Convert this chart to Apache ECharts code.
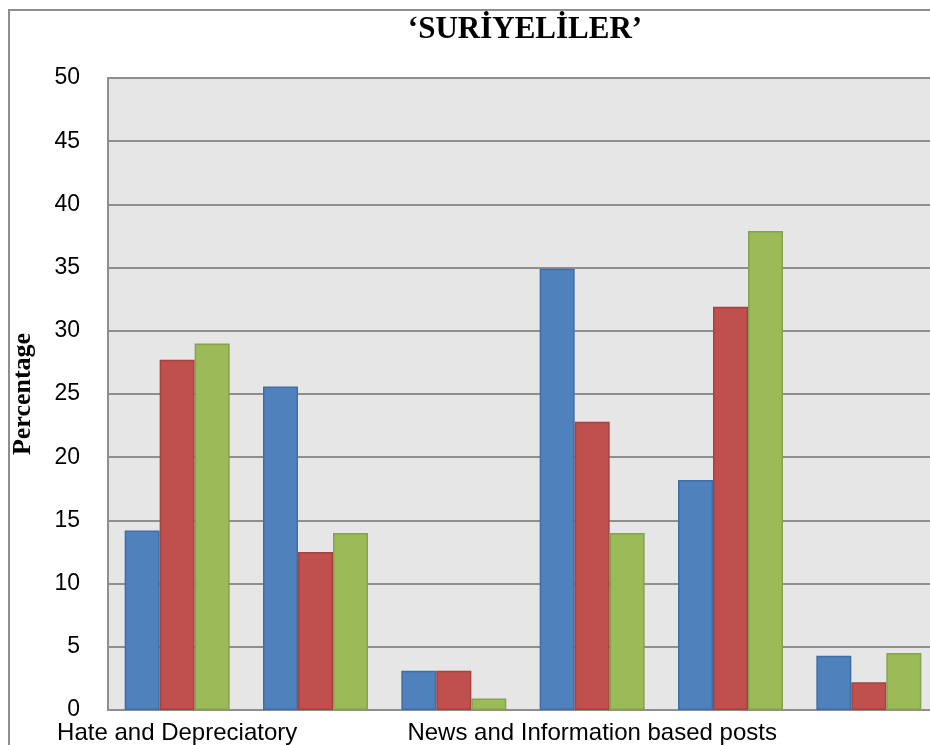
<!DOCTYPE html>
<html>
<head>
<meta charset="utf-8">
<script src="https://cdn.jsdelivr.net/npm/echarts@6/dist/echarts.min.js"></script>
<style>
html,body{margin:0;padding:0;background:#fff;overflow:hidden;width:930px;height:745px;}
#chart{width:938px;height:745px;}
</style>
</head>
<body>
<div id="chart"></div>
<script>
var categories = ['Hate and Depreciatory', 'Category 2', 'Category 3', 'News and Information based posts', 'Category 5', 'Category 6'];
var series1 = [14.2, 25.6, 3.1, 34.9, 18.2, 4.3];
var series2 = [27.7, 12.5, 3.1, 22.8, 31.9, 2.2];
var series3 = [29.0, 14.0, 0.9, 14.0, 37.9, 4.5];
var yTicks = [0, 5, 10, 15, 20, 25, 30, 35, 40, 45, 50];

var chart = echarts.init(document.getElementById('chart'));
var fills = ['#4F81BD', '#C0504D', '#9BBB59'];
var borders = ['#3F6EA6', '#A5413E', '#85A24C'];
function mk(name, data, i) {
  return {
    name: name, type: 'bar', data: data, barWidth: 35, barGap: '0%',
    itemStyle: { color: fills[i], borderColor: borders[i], borderWidth: 1.5 }
  };
}
chart.setOption({
  animation: false,
  backgroundColor: '#ffffff',
  graphic: [{
    type: 'rect', shape: { x: 9, y: 10, width: 1000, height: 800 },
    style: { fill: 'none', stroke: '#8e8e8e', lineWidth: 2 }, silent: true, z: -1
  }],
  title: {
    text: '\u2018SUR\u0130YEL\u0130LER\u2019',
    left: 520, top: 9, textAlign: 'center',
    textStyle: { fontFamily: 'Liberation Serif', fontWeight: 'bold', fontSize: 31, color: '#000' }
  },
  grid: {
    left: 108, top: 78, right: 0, bottom: 35,
    show: true, backgroundColor: '#e6e6e6', borderWidth: 0, containLabel: false
  },
  xAxis: {
    type: 'category', data: categories,
    axisLine: { lineStyle: { color: '#8e8e8e', width: 2 } },
    axisTick: { show: false },
    axisLabel: { interval: 2, margin: 11, color: '#000', fontFamily: 'Liberation Sans', fontSize: 24 }
  },
  yAxis: {
    type: 'value', min: yTicks[0], max: yTicks[yTicks.length - 1], interval: 5,
    name: 'Percentage', nameLocation: 'middle', nameGap: 72,
    nameTextStyle: { fontFamily: 'Liberation Serif', fontWeight: 'bold', fontSize: 26, color: '#000' },
    axisLine: { show: true, lineStyle: { color: '#8e8e8e', width: 2 } },
    axisTick: { show: false },
    splitLine: { show: true, lineStyle: { color: '#8e8e8e', width: 2 } },
    axisLabel: { margin: 28, color: '#000', fontFamily: 'Liberation Sans', fontSize: 23 }
  },
  series: [mk('Series 1', series1, 0), mk('Series 2', series2, 1), mk('Series 3', series3, 2)]
});
</script>
</body>
</html>
